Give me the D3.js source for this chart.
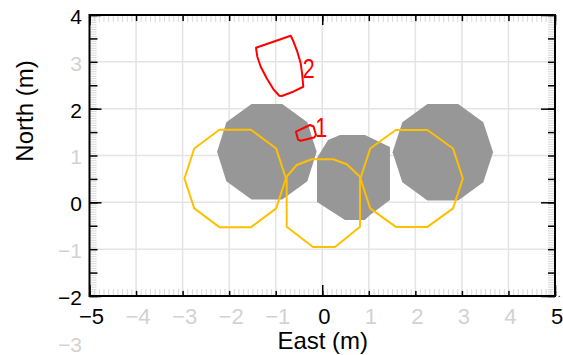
<!DOCTYPE html>
<html><head><meta charset="utf-8">
<script src="https://cdn.jsdelivr.net/npm/d3@7"></script>
<style>body{margin:0;background:#fff}</style>
</head><body><svg id="c" width="563" height="355"></svg>
<script>
// ---- data (metres) ----
const xTickLabels = [-5,-4,-3,-2,-1,0,1,2,3,4,5];
const xMajorLabels = [-5,0,5];
const yTickLabels = [-3,-2,-1,0,1,2,3,4];
const yMajorLabels = [-2,0,2,4];
const xGridVals = [-4,-3,-2,-1,0,1,2,3,4];
const yGridVals = [-1,0,1,2,3];

const grayLeft = [[-0.12,1.08],[-0.32,1.71],[-0.86,2.10],[-1.52,2.10],[-2.06,1.71],[-2.26,1.08],[-2.06,0.45],[-1.52,0.06],[-0.86,0.06],[-0.32,0.45]];
const grayMiddle = [[0.381,1.437],[0.918,1.437],[1.455,1.181],[1.455,0.049],[1.026,-0.271],[0.918,-0.378],[0.489,-0.378],[-0.113,0.006],[-0.113,0.946],[0.124,1.331]];
const grayRight = [[3.67,1.07],[3.46,1.71],[2.92,2.10],[2.26,2.10],[1.72,1.71],[1.51,1.07],[1.72,0.43],[2.26,0.04],[2.92,0.04],[3.46,0.43]];

const yellowLeft = [[-0.78,0.51],[-0.99,1.15],[-1.53,1.55],[-2.21,1.55],[-2.75,1.15],[-2.96,0.51],[-2.75,-0.13],[-2.21,-0.53],[-1.53,-0.53],[-0.99,-0.13]];
const yellowMiddle = [[-0.764,0.547],[-0.549,0.797],[-0.227,0.919],[0.237,0.919],[0.525,0.812],[0.811,0.547],[0.811,-0.521],[0.274,-0.955],[-0.199,-0.955],[-0.764,-0.521]];
const yellowRight = [[3.02,0.51],[2.81,1.15],[2.26,1.545],[1.58,1.545],[1.03,1.15],[0.82,0.51],[1.03,-0.13],[1.58,-0.525],[2.26,-0.525],[2.81,-0.13]];

const track1 = [[-0.564,1.508],[-0.263,1.651],[-0.188,1.619],[-0.134,1.437],[-0.177,1.384],[-0.463,1.315],[-0.521,1.341]];
const track2 = [[-1.423,3.301],[-0.678,3.558],[-0.622,3.444],[-0.536,3.216],[-0.463,2.968],[-0.429,2.718],[-0.407,2.468],[-0.622,2.362],[-0.871,2.270],[-0.923,2.276],[-1.052,2.419],[-1.193,2.648],[-1.322,2.896],[-1.395,3.109]];
const trackNames = ["1","2"];
const trackLabelAt = [[-0.15,1.40],[-0.42,2.66]];

// ---- drawing ----
const svg = d3.select("#c");
const L = 89.5, R = 555, T = 15, B = 296;
const x = d3.scaleLinear().domain([-5,5]).range([L,R]);
const y = d3.scaleLinear().domain([-2,4]).range([B,T]);
const line = d3.line().x(d=>x(d[0])).y(d=>y(d[1])).curve(d3.curveLinearClosed);

// grid
svg.append("g").selectAll("line").data(xGridVals).join("line")
  .attr("x1",d=>x(d)).attr("x2",d=>x(d)).attr("y1",T).attr("y2",B)
  .attr("stroke","#e4e4e4").attr("stroke-width",1.5);
svg.append("g").selectAll("line").data(yGridVals).join("line")
  .attr("y1",d=>y(d)).attr("y2",d=>y(d)).attr("x1",L).attr("x2",R)
  .attr("stroke","#e4e4e4").attr("stroke-width",1.5);

// gray obstacles
svg.append("g").selectAll("path").data([grayLeft,grayMiddle,grayRight]).join("path")
  .attr("d",line).attr("fill","#979797").attr("stroke","none");

// yellow regions
svg.append("g").selectAll("path").data([yellowLeft,yellowMiddle,yellowRight]).join("path")
  .attr("d",line).attr("fill","none").attr("stroke","#FFC000").attr("stroke-width",2).attr("stroke-linejoin","round");

// red tracks
svg.append("g").selectAll("path").data([track1,track2]).join("path")
  .attr("d",line).attr("fill","none").attr("stroke","#FF0000").attr("stroke-width",2).attr("stroke-linejoin","round");
svg.append("g").selectAll("text").data(trackNames).join("text")
  .attr("transform",(d,i)=>`translate(${x(trackLabelAt[i][0])},${y(trackLabelAt[i][1])}) scale(0.8,1)`)
  .attr("fill","#FF0000").attr("font-family","Liberation Sans, Arial, sans-serif")
  .attr("font-size",27).text(d=>d);

// ticks helper
function tickLayer(axis, tx, ty, vals, size, color, w) {
  const g = svg.append("g").attr("transform",`translate(${tx},${ty})`)
    .call(axis.tickValues(vals).tickSize(size).tickFormat(""));
  g.select(".domain").remove();
  g.selectAll("line").attr("stroke",color).attr("stroke-width",w);
  return g;
}
const xMinor = x.ticks(100), yMinor = y.ticks(120);
const xMid = xTickLabels, yMid = y.ticks(12);
// minor gray ticks
tickLayer(d3.axisBottom(x), 0, B, xMinor, -7, "#d8d8d8", 1);
tickLayer(d3.axisTop(x), 0, T, xMinor, -7, "#d8d8d8", 1);
tickLayer(d3.axisLeft(y), L, 0, yMinor, -7, "#d8d8d8", 1);
tickLayer(d3.axisRight(y), R, 0, yMinor, -7, "#d8d8d8", 1);
// medium ticks
tickLayer(d3.axisBottom(x), 0, B, xMid, -5, "#000", 1.5);
tickLayer(d3.axisTop(x), 0, T, xMid, -6, "#000", 1.5);
tickLayer(d3.axisLeft(y), L, 0, yMid, -8, "#000", 1.5);
tickLayer(d3.axisRight(y), R, 0, yMid, -7, "#000", 1.5);
// long ticks
tickLayer(d3.axisBottom(x), 0, B, xMajorLabels, -11, "#000", 1.5);
tickLayer(d3.axisTop(x), 0, T, xMajorLabels, -10, "#000", 1.5);
tickLayer(d3.axisLeft(y), L, 0, yMajorLabels, -12, "#000", 1.5);
tickLayer(d3.axisRight(y), R, 0, yMajorLabels, -14, "#000", 1.5);

// frame
svg.append("rect").attr("x",L).attr("y",T).attr("width",R-L).attr("height",B-T)
  .attr("fill","none").attr("stroke","#000").attr("stroke-width",2);

// tick labels
const fmt = d3.format("");
const gx = svg.append("g").attr("transform",`translate(1.5,${B})`)
  .call(d3.axisBottom(x).tickValues(xTickLabels).tickSize(0).tickPadding(12).tickFormat(fmt));
gx.select(".domain").remove();
gx.selectAll("text").attr("font-size",22).attr("font-family","Liberation Sans, Arial, sans-serif")
  .attr("fill",d=>xMajorLabels.includes(d)?"#000":"#d2d2d2");

const gy = svg.append("g").attr("transform",`translate(${L},0)`)
  .call(d3.axisLeft(y).tickValues(yTickLabels).tickSize(0).tickPadding(7.5).tickFormat(fmt));
gy.select(".domain").remove();
gy.selectAll("text").attr("font-size",21).attr("dy","0.4em").attr("font-family","Liberation Sans, Arial, sans-serif")
  .attr("fill",d=>yMajorLabels.includes(d)?"#000":"#d2d2d2");

svg.append("text").attr("x",R+3).attr("y",B+1).attr("font-size",10).attr("fill","#000").text(".");

// axis titles
svg.append("text").attr("x",(L+R)/2+0.5).attr("y",349).attr("text-anchor","middle")
  .attr("font-family","Liberation Sans, Arial, sans-serif").attr("font-size",24).text("East (m)");
svg.append("text").attr("transform","translate(33,111) rotate(-90)").attr("text-anchor","middle")
  .attr("font-family","Liberation Sans, Arial, sans-serif").attr("font-size",24).text("North (m)");
</script>
</body></html>
